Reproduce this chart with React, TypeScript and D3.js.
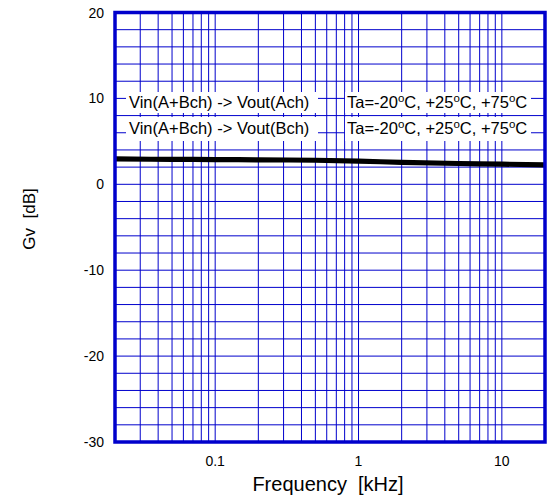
import React from "react";
import * as d3 from "d3";

const freqs = [0.02, 0.05, 0.1, 0.2, 0.5, 1, 2, 5, 10, 20];
const gvM20 = [3.05, 3.0, 2.98, 2.95, 2.9, 2.8, 2.65, 2.52, 2.45, 2.35];
const gv25 = [2.95, 2.9, 2.88, 2.85, 2.8, 2.7, 2.55, 2.42, 2.35, 2.25];
const gv75 = [2.85, 2.8, 2.78, 2.75, 2.7, 2.6, 2.45, 2.32, 2.25, 2.15];
const yTicks = [20, 10, 0, -10, -20, -30];
const xTicks = [0.1, 1, 10];
const xTickLabels = ["0.1", "1", "10"];

const W = 547, H = 500;
const L = 115, R = 545, T = 12.5, B = 442;
const BLUE = "#0000cc";
const FONT = "Liberation Sans, Arial, sans-serif";

export default function App() {
  const x = d3.scaleLog().domain([0.02, 20]).range([L, R]);
  const y = d3.scaleLinear().domain([-30, 20]).range([B, T]);
  const vGrid: number[] = [];
  for (const dec of [0.01, 0.1, 1, 10]) {
    for (let k = 1; k <= 9; k++) {
      const f = dec * k;
      if (f > 0.0201 && f < 19.99) vGrid.push(f);
    }
  }
  const hGrid = d3.range(-28, 20, 2);
  const line = d3
    .line<number>()
    .x((_, i) => x(freqs[i]))
    .y((d) => y(d))
    .curve(d3.curveMonotoneX);
  const series = [gvM20, gv25, gv75];

  const boxes = [
    { x0: 126, x1: 318, y0: 92, y1: 113, text: "Vin(A+Bch) -> Vout(Ach)", tx: 129, ty: 108 },
    { x0: 126, x1: 318, y0: 117, y1: 141, text: "Vin(A+Bch) -> Vout(Bch)", tx: 129, ty: 134 },
  ];
  const taBoxes = [
    { x0: 345, x1: 531, y0: 92, y1: 113, tx: 347, ty: 108 },
    { x0: 345, x1: 531, y0: 117, y1: 141, tx: 347, ty: 134 },
  ];

  return (
    <svg width={W} height={H} style={{ position: "absolute", left: 0, top: 0, background: "#fff" }} fontFamily={FONT}>
      <rect x={0} y={0} width={W} height={H} fill="#fff" />
      {hGrid.map((v) => (
        <line key={"h" + v} x1={L} x2={R} y1={y(v)} y2={y(v)} stroke={BLUE} strokeWidth={1} />
      ))}
      {vGrid.map((f) => (
        <line key={"v" + f} x1={x(f)} x2={x(f)} y1={T} y2={B} stroke={BLUE} strokeWidth={1} />
      ))}
      {boxes.map((b, i) => (
        <g key={"b" + i}>
          <rect x={b.x0} y={b.y0} width={b.x1 - b.x0} height={b.y1 - b.y0} fill="#fff" />
          <text x={b.tx} y={b.ty} fontSize={16.5} fill="#000">{b.text}</text>
        </g>
      ))}
      {taBoxes.map((b, i) => (
        <g key={"t" + i}>
          <rect x={b.x0} y={b.y0} width={b.x1 - b.x0} height={b.y1 - b.y0} fill="#fff" />
          <text x={b.tx} y={b.ty} fontSize={16.5} fill="#000">
            Ta=-20<tspan fontSize={11.5} dy={-6}>o</tspan><tspan dy={6}>C, +25</tspan>
            <tspan fontSize={11.5} dy={-6}>o</tspan><tspan dy={6}>C, +75</tspan>
            <tspan fontSize={11.5} dy={-6}>o</tspan><tspan dy={6}>C</tspan>
          </text>
        </g>
      ))}
      {series.map((s, i) => (
        <path key={"s" + i} d={line(s) || ""} fill="none" stroke="#000" strokeWidth={3.5} />
      ))}
      <rect x={L} y={T} width={R - L} height={B - T} fill="none" stroke={BLUE} strokeWidth={3.5} />
      {yTicks.map((v) => (
        <text key={"yt" + v} x={104} y={y(v) + 5} fontSize={14} textAnchor="end" fill="#000">{v}</text>
      ))}
      {xTicks.map((f, i) => (
        <text key={"xt" + f} x={x(f)} y={466} fontSize={14} textAnchor="middle" fill="#000">{xTickLabels[i]}</text>
      ))}
      <text x={328} y={491} fontSize={20} textAnchor="middle" fill="#000" style={{ whiteSpace: "pre" }}>{"Frequency  [kHz]"}</text>
      <text transform={`translate(35,219) rotate(-90)`} fontSize={17} textAnchor="middle" fill="#000" style={{ whiteSpace: "pre" }}>{"Gv  [dB]"}</text>
    </svg>
  );
}
